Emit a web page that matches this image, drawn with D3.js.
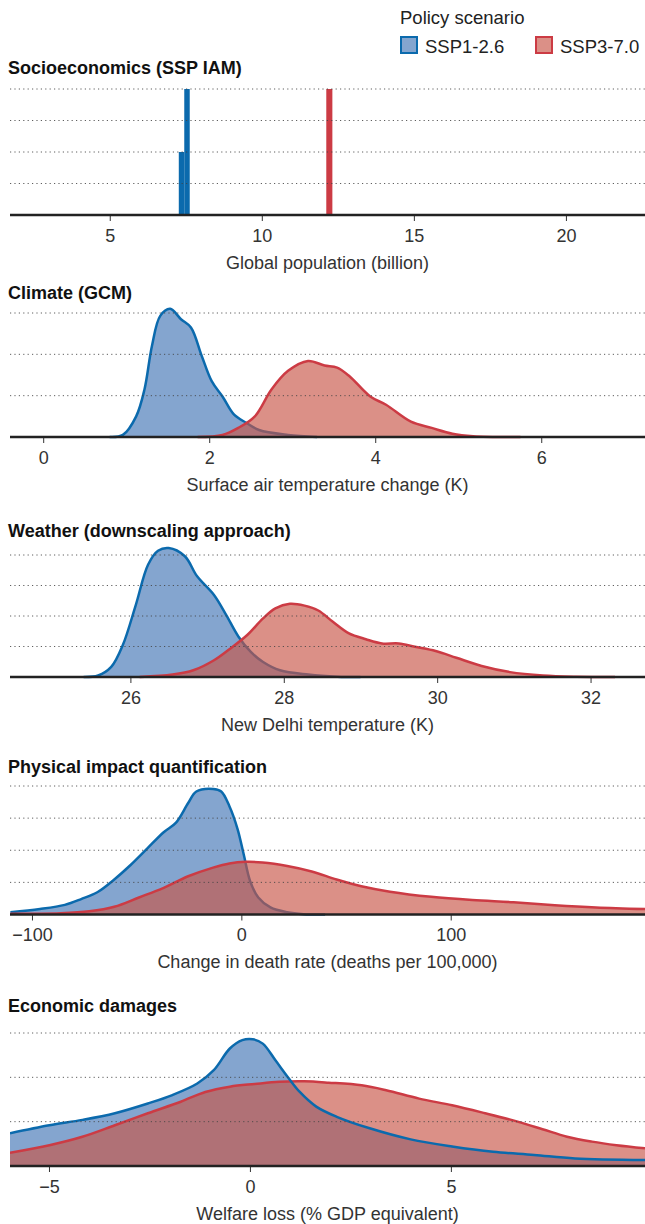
<!DOCTYPE html>
<html>
<head>
<meta charset="utf-8">
<script src="https://d3js.org/d3.v7.min.js"></script>
<style>
  body { margin: 0; background: #fff; }
  svg { font-family: "Liberation Sans", Arial, sans-serif; display: block; }
</style>
</head>
<body>
<div id="chart"></div>
<script>
// ---- data ----
const scenarios = ["SSP1-2.6", "SSP3-7.0"];
const panelTitles = ["Socioeconomics (SSP IAM)", "Climate (GCM)", "Weather (downscaling approach)",
                     "Physical impact quantification", "Economic damages"];
const axisTitles = ["Global population (billion)", "Surface air temperature change (K)",
                    "New Delhi temperature (K)", "Change in death rate (deaths per 100,000)",
                    "Welfare loss (% GDP equivalent)"];
const xDomains = [[1.72, 22.6], [-0.4, 7.25], [24.43, 32.71], [-110.5, 192.8], [-5.97, 9.83]];
const xTicks = [[5, 10, 15, 20], [0, 2, 4, 6], [26, 28, 30, 32], [-100, 0, 100], [-5, 0, 5]];
const yGridCounts = [4, 3, 4, 4, 3];

// histogram bins [x0, x1, height]
const pop126 = [[7.27, 7.45, 2], [7.45, 7.63, 4]];
const pop370 = [[12.12, 12.32, 4]];

// density curves [x, density]
const tas126 = [[0.8, 0], [0.96, 0.05], [1.12, 0.5], [1.22, 1.15], [1.31, 2.2], [1.41, 2.93], [1.53, 3.1],
  [1.66, 2.85], [1.78, 2.65], [1.91, 1.96], [2.03, 1.35], [2.16, 0.98], [2.3, 0.54], [2.45, 0.34],
  [2.6, 0.17], [2.95, 0.05], [3.3, 0]];
const tas370 = [[1.86, 0], [2.16, 0.05], [2.35, 0.22], [2.55, 0.5], [2.75, 1.15], [2.95, 1.6], [3.19, 1.84],
  [3.39, 1.73], [3.54, 1.68], [3.69, 1.47], [3.94, 0.98], [4.13, 0.78], [4.43, 0.37], [4.68, 0.22],
  [4.93, 0.08], [5.18, 0.02], [5.75, 0]];

const delhi126 = [[25.39, 0], [25.58, 0.05], [25.75, 0.33], [25.9, 1.04], [26.07, 2.36], [26.23, 3.68],
  [26.36, 4.14], [26.5, 4.23], [26.71, 3.96], [26.87, 3.3], [27.09, 2.69], [27.25, 2.03], [27.41, 1.32],
  [27.57, 0.82], [27.73, 0.49], [27.95, 0.22], [28.32, 0.08], [28.7, 0.01], [29.0, 0]];
const delhi370 = [[26.12, 0], [26.55, 0.08], [26.82, 0.22], [27.09, 0.55], [27.3, 0.93], [27.52, 1.37],
  [27.73, 1.92], [27.89, 2.25], [28.08, 2.4], [28.27, 2.34], [28.45, 2.18], [28.64, 1.81], [28.85, 1.43],
  [29.07, 1.24], [29.28, 1.1], [29.5, 1.1], [29.71, 0.99], [29.98, 0.85], [30.25, 0.63], [30.58, 0.36],
  [30.95, 0.16], [31.38, 0.05], [31.81, 0.01], [32.32, 0]];

const deaths126 = [[-110.3, 0.07], [-96.2, 0.17], [-84.3, 0.3], [-76.5, 0.48], [-68.6, 0.7], [-60.7, 1.09],
  [-52.9, 1.54], [-45, 2.05], [-37.1, 2.56], [-31.2, 2.86], [-25.4, 3.47], [-21.5, 3.83], [-13.5, 3.91],
  [-9.6, 3.83], [-5.7, 3.37], [-1.8, 2.66], [1.2, 1.85], [4.2, 1.04], [8.1, 0.53], [13.9, 0.22],
  [21.9, 0.07], [29.7, 0.01], [40, 0]];
const deaths370 = [[-110.3, 0.02], [-86.3, 0.04], [-72.6, 0.1], [-60.7, 0.24], [-48.9, 0.53], [-37.1, 0.83],
  [-25.4, 1.19], [-13.5, 1.46], [-5.7, 1.59], [2.2, 1.64], [10.1, 1.62], [21.9, 1.51], [33.6, 1.34],
  [45.5, 1.09], [57.3, 0.88], [71, 0.71], [90.7, 0.55], [110.3, 0.45], [130, 0.38], [149.7, 0.29],
  [169.4, 0.22], [192.8, 0.17]];

const welfare126 = [[-5.97, 0.74], [-4.99, 0.92], [-4.17, 1.04], [-3.36, 1.19], [-2.54, 1.41], [-1.93, 1.6],
  [-1.31, 1.86], [-0.9, 2.16], [-0.5, 2.65], [-0.19, 2.84], [0.07, 2.86], [0.32, 2.76], [0.63, 2.39],
  [0.94, 2.01], [1.24, 1.67], [1.65, 1.34], [2.16, 1.11], [2.98, 0.85], [4.0, 0.6], [5.03, 0.44],
  [6.05, 0.32], [7.07, 0.25], [8.09, 0.17], [9.83, 0.135]];
const welfare370 = [[-5.97, 0.3], [-4.99, 0.47], [-4.17, 0.66], [-3.36, 0.92], [-2.54, 1.19], [-1.72, 1.45],
  [-1.11, 1.67], [-0.5, 1.79], [0.12, 1.85], [0.73, 1.9], [1.35, 1.91], [1.96, 1.88], [2.78, 1.82],
  [3.39, 1.71], [4.21, 1.52], [5.03, 1.37], [5.85, 1.19], [6.66, 1.0], [7.28, 0.83], [7.89, 0.66],
  [8.51, 0.55], [9.12, 0.47], [9.83, 0.4]];

const curves = [null, [tas126, tas370], [delhi126, delhi370], [deaths126, deaths370], [welfare126, welfare370]];

// ---- layout ----
const width = 645, height = 1224;
const left = 10, right = 645;
const axisY = [215, 437, 677, 914.5, 1166];
const topGridY = [89, 313, 555, 786, 1033];
const titleY = [73.5, 299, 536.5, 773, 1011.5];
const linesOnTop = [false, false, false, false, true];

const blueLine = "#0b6aad", blueFill = "#84a5cf";
const redLine = "#cc3b44", redFill = "rgb(200,84,70)", redOpacity = 0.65;

const svg = d3.select("#chart").append("svg")
  .attr("width", width).attr("height", height);

// legend
const legend = svg.append("g");
legend.append("text").attr("x", 400).attr("y", 24)
  .style("font-size", "18.5px").attr("fill", "#222").text("Policy scenario");
[[400, blueFill, blueLine, 1, scenarios[0]], [535, redFill, redLine, redOpacity, scenarios[1]]]
  .forEach(([x, fill, stroke, op, label]) => {
    legend.append("rect").attr("x", x + 1).attr("y", 37).attr("width", 16).attr("height", 16)
      .attr("fill", "#fff").attr("stroke", "none");
    legend.append("rect").attr("x", x + 1).attr("y", 37).attr("width", 16).attr("height", 16)
      .attr("fill", fill).attr("fill-opacity", op).attr("stroke", stroke).attr("stroke-width", 2);
    legend.append("text").attr("x", x + 25).attr("y", 52.5)
      .style("font-size", "18.5px").attr("fill", "#222").text(label);
  });

svg.append("defs").append("clipPath").attr("id", "plotclip")
  .append("rect").attr("x", left).attr("y", 0).attr("width", right - left).attr("height", height);

panelTitles.forEach((title, i) => {
  const x = d3.scaleLinear().domain(xDomains[i]).range([left, right]);
  const y = d3.scaleLinear().domain([0, yGridCounts[i]]).range([axisY[i], topGridY[i]]);
  const g = svg.append("g");

  g.append("text").attr("x", 8).attr("y", titleY[i])
    .style("font-size", "18px").style("font-weight", "bold").attr("fill", "#111").text(title);

  const plot = g.append("g").attr("clip-path", "url(#plotclip)");

  if (i === 0) {
    [[pop126, blueLine], [pop370, redLine]].forEach(([bins, col]) => {
      plot.selectAll(null).data(bins).join("rect")
        .attr("x", d => x(d[0])).attr("width", d => x(d[1]) - x(d[0]))
        .attr("y", d => y(d[2])).attr("height", d => y(0) - y(d[2]))
        .attr("fill", col);
    });
  } else {
    const area = d3.area().x(d => x(d[0])).y0(y(0)).y1(d => y(d[1])).curve(d3.curveCatmullRom.alpha(0.5));
    const line = d3.line().x(d => x(d[0])).y(d => y(d[1])).curve(d3.curveCatmullRom.alpha(0.5));
    const [b, r] = curves[i];
    const drawBlueArea = () => plot.append("path").datum(b).attr("d", area).attr("fill", blueFill);
    const drawRedArea = () => plot.append("path").datum(r).attr("d", area)
      .attr("fill", redFill).attr("fill-opacity", redOpacity);
    const drawLine = (data, col) => plot.append("path").datum(data).attr("d", line)
      .attr("fill", "none").attr("stroke", col).attr("stroke-width", 2.5).attr("stroke-linejoin", "round");
    if (linesOnTop[i]) {
      drawBlueArea(); drawRedArea();
      drawLine(r, redLine); drawLine(b, blueLine);
    } else {
      drawBlueArea(); drawLine(b, blueLine);
      drawRedArea(); drawLine(r, redLine);
    }
  }

  // dotted grid lines
  g.selectAll(null).data(d3.range(1, yGridCounts[i] + 1)).join("line")
    .attr("x1", left).attr("x2", right)
    .attr("y1", d => y(d)).attr("y2", d => y(d))
    .attr("stroke", "#444").attr("stroke-width", 1).attr("stroke-dasharray", "1.2,3.2")
    .attr("opacity", 0.85);

  // x axis
  const axis = g.append("g").attr("transform", `translate(0,${axisY[i]})`)
    .call(d3.axisBottom(x).tickValues(xTicks[i]).tickSize(6).tickPadding(8).tickFormat(d3.format("d")));
  axis.select(".domain").remove();
  axis.selectAll(".tick line").attr("stroke", "#333").attr("stroke-width", 1);
  axis.selectAll(".tick text").style("font-size", "18px").attr("fill", "#333")
    .style("font-family", "\"Liberation Sans\", Arial, sans-serif");
  g.append("line").attr("x1", left).attr("x2", right).attr("y1", axisY[i]).attr("y2", axisY[i])
    .attr("stroke", "#222").attr("stroke-width", 2.5);

  g.append("text").attr("x", (left + right) / 2 + 0).attr("y", axisY[i] + 53.5)
    .attr("text-anchor", "middle").style("font-size", "18px").attr("fill", "#333")
    .text(axisTitles[i]);
});
</script>
</body>
</html>
